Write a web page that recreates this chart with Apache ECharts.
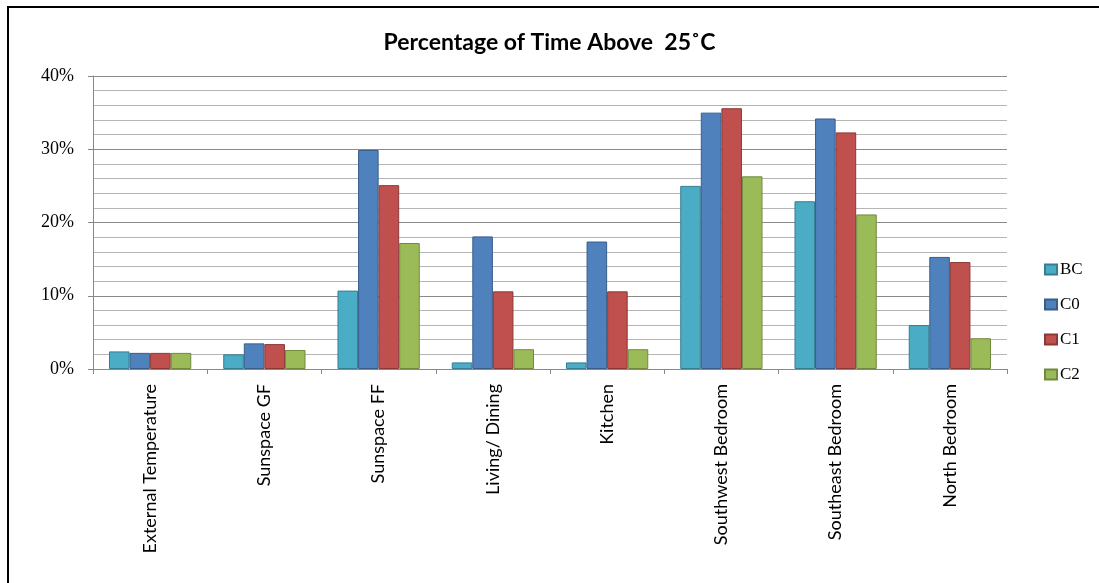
<!DOCTYPE html>
<html>
<head>
<meta charset="utf-8">
<script src="https://cdn.jsdelivr.net/npm/echarts@6/dist/echarts.min.js"></script>
<style>
html,body{margin:0;padding:0;background:#fff;}
#chart{width:1099px;height:583px;}
</style>
</head>
<body>
<div id="chart"></div>
<script>
const categories = ["External Temperature","Sunspace GF","Sunspace FF","Living/ Dining","Kitchen","Southwest Bedroom","Southeast Bedroom","North Bedroom"];
const seriesNames = ["BC","C0","C1","C2"];
const bcValues = [2.4, 2.0, 10.7, 0.9, 0.9, 25.0, 22.9, 6.0];
const c0Values = [2.2, 3.5, 29.9, 18.1, 17.4, 35.0, 34.2, 15.3];
const c1Values = [2.2, 3.4, 25.1, 10.6, 10.6, 35.6, 32.3, 14.6];
const c2Values = [2.2, 2.6, 17.2, 2.7, 2.7, 26.3, 21.1, 4.2];
const yTicks = [0, 10, 20, 30, 40];

const colors = ["#4BACC6","#4F81BD","#C0504D","#9BBB59"];
const borders = ["#357d92","#385d8a","#8c3836","#71893f"];
const valueSets = [bcValues, c0Values, c1Values, c2Values];

const chart = echarts.init(document.getElementById('chart'), null, {renderer:'canvas'});
chart.setOption({
  animation:false,
  backgroundColor:'#fff',
  color: colors,
  title:{
    text:'Percentage of Time Above  25\u02DAC',
    left:'center', top:26,
    textStyle:{fontFamily:'Lato', fontWeight:'bold', fontSize:23, color:'#000'}
  },
  legend:{
    orient:'vertical',
    left:1039, top:256,
    itemWidth:12, itemHeight:10, itemGap:18,
    icon:'rect',
    data: seriesNames,
    textStyle:{fontFamily:'Liberation Serif', fontSize:17, color:'#000', padding:[0,0,0,-2]}
  },
  grid:{left:93, right:92, top:76, bottom:214, containLabel:false},
  xAxis:{
    type:'category',
    data: categories,
    axisLine:{lineStyle:{color:'#888', width:1}},
    axisTick:{show:true, alignWithLabel:false, length:5, lineStyle:{color:'#888'}},
    axisLabel:{rotate:90, interval:0, margin:15, fontFamily:'Lato', fontSize:18, color:'#000'},
    splitLine:{show:false}
  },
  yAxis:{
    type:'value',
    min:0, max:40, interval:10,
    axisLine:{show:true, lineStyle:{color:'#888'}},
    axisTick:{show:true, length:5, lineStyle:{color:'#888'}},
    axisLabel:{margin:19, fontFamily:'Liberation Serif', fontSize:18, color:'#000',
      formatter: v => yTicks.includes(v) ? v + '%' : ''},
    splitLine:{show:true, lineStyle:{color:'#8a8a8a', width:1}},
    minorTick:{show:false, splitNumber:5},
    minorSplitLine:{show:true, lineStyle:{color:'#b5b5b5', width:1}}
  },
  series: seriesNames.map((name, i) => ({
    name,
    type:'bar',
    data: valueSets[i],
    barGap:'0%',
    barCategoryGap:'28%',
    itemStyle:{color:colors[i], borderColor:borders[i], borderWidth:1}
  })),
  graphic:[
    {type:'line', shape:{x1:8, y1:7, x2:8, y2:583}, style:{stroke:'#000', lineWidth:2}},
    {type:'line', shape:{x1:7, y1:7, x2:1099, y2:7}, style:{stroke:'#000', lineWidth:2}}
  ]
});
</script>
</body>
</html>
